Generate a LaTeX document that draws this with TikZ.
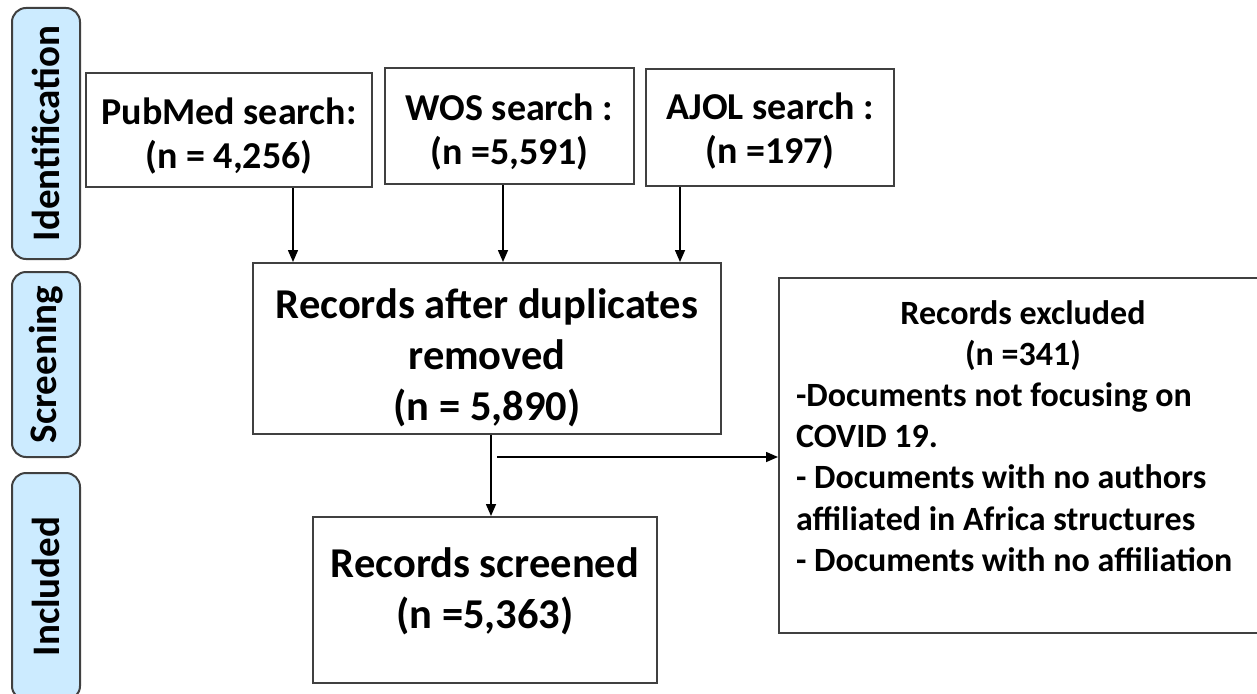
\documentclass[tikz,border=0pt]{standalone}
\usepackage{fontspec}
\setmainfont{Carlito}
\usepackage{xcolor}
\usepackage{tikz}
\usetikzlibrary{positioning,arrows.meta}

\definecolor{phaseblue}{RGB}{204,235,255}
\definecolor{framegray}{RGB}{64,64,64}

\begin{document}
\begin{tikzpicture}[x=1pt,y=-1pt,>={Triangle[length=12pt,width=10pt]},line width=1.5pt,
    every node/.style={execute at begin node={\spaceskip=0pt\xspaceskip=0pt\relax}},
    frame/.style={draw=framegray,line width=2pt},
    box/.style={frame,inner sep=0pt,align=center,font=\fontsize{38}{44}\selectfont\bfseries},
    bigbox/.style={box,font=\fontsize{42.5}{51}\selectfont\bfseries},
    exclbox/.style={frame,align=left,inner xsep=17pt,inner ysep=0pt,text width=454pt,text height=46pt,text depth=309pt,font=\fontsize{34}{41.2}\selectfont\bfseries},
    phase/.style={frame,fill=phaseblue,rounded corners=14pt,rotate=90,minimum height=68pt,inner sep=0pt,font=\fontsize{39}{45}\selectfont\bfseries}]

    \useasboundingbox (0,0) rectangle (1257,693);

    % Phases
    \node [phase, minimum width=251pt] at (46,133.5) (ident) {Identification};
    \node [phase, minimum width=185pt] at (46,364.5) (screen) {Screening};
    \node [phase, minimum width=227pt] at (46,586.5) (incl) {Included};

    % The boxes (text height/depth put the last line where it sits)
    \node [box, minimum width=286pt, text height=95pt, text depth=19pt] at (229,130) (pub) {PubMed search:\\(n = 4,256)};
    \node [box, minimum width=249pt, text height=96pt, text depth=20pt] at (509.5,126) (wos) {WOS search :\\(n =5,591)};
    \node [box, minimum width=248pt, text height=94pt, text depth=23pt] at (770,127.5) (ajol) {AJOL search :\\(n =197)};
    \node [bigbox, minimum width=468pt, text height=157pt, text depth=14pt] at (487,348.5) (dup) {Records after duplicates\\removed\\(n = 5,890)};
    \node [bigbox, minimum width=344pt, text height=111pt, text depth=55pt] at (485,600) (scr) {Records screened\\(n =5,363)};
    \node [exclbox, anchor=north west] at (778,277) (excl) {\makebox[\linewidth]{Records excluded}\\\makebox[\linewidth]{(n =341)}\\-Documents not focusing on\\COVID 19.\\- Documents with no authors\\affiliated in Africa structures\\- Documents with no affiliation};

    % Arrows
    \coordinate (c1) at (293,0);
    \coordinate (c2) at (503,0);
    \coordinate (c3) at (680,0);
    \coordinate (c4) at (491,0);
    \coordinate (c5) at (497,457);
    \path[->]
    (pub.south -| c1) edge (dup.north -| c1)
    (wos.south -| c2) edge (dup.north -| c2)
    (ajol.south -| c3) edge (dup.north -| c3)
    (dup.south -| c4) edge (scr.north -| c4)
    (c5) edge (excl.west |- c5)
    ;

\end{tikzpicture}
\end{document}
